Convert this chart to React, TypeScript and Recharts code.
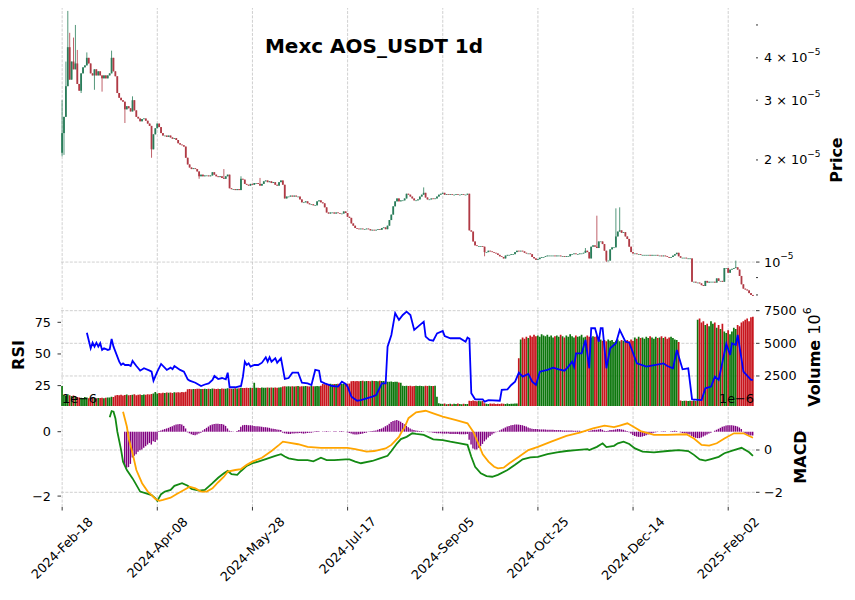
import React from 'react';
import { ComposedChart, Bar, Line, XAxis, YAxis, ReferenceLine, Cell } from 'recharts';

// Mexc AOS_USDT 1d — price (log), RSI + volume, MACD
// prices in units of 1e-6 USDT

const FONT = '"DejaVu Sans", Verdana, sans-serif';
const UP = '#2a7d5a';
const DOWN = '#b03a45';
const VOL_UP = '#0c760c';
const VOL_DOWN = '#c8161e';
const GRID = '#c4c4c4';

const dateTicks = [0, 50, 100, 150, 200, 250, 300, 350];
const dateLabels = ['2024-Feb-18', '2024-Apr-08', '2024-May-28', '2024-Jul-17', '2024-Sep-05', '2024-Oct-25', '2024-Dec-14', '2025-Feb-02'];

const firstOpen = 21.0;
const closes = [
  24.0, 26.8, 33.0, 43.0, 34.5, 39.0, 37.0, 38.5, 33.5, 32.0,
  36.0, 37.5, 38.0, 40.0, 38.5, 36.0, 35.5, 37.0, 35.5, 36.5,
  35.5, 34.8, 35.5, 34.8, 35.5, 36.0, 40.0, 36.5, 35.3, 31.5,
  30.5, 30.0, 29.7, 28.2, 28.8, 28.4, 27.8, 30.0, 28.0, 26.8,
  26.5, 26.0, 26.4, 26.5, 26.1, 25.6, 25.2, 21.5, 23.8, 24.8,
  25.6, 25.0, 24.0, 23.6, 23.6, 23.4, 23.6, 23.3, 23.1, 23.2,
  22.9, 22.4, 22.2, 22.1, 21.9, 20.3, 19.4, 19.0, 18.8, 18.9,
  18.8, 18.5, 17.9, 18.1, 17.9, 18.0, 18.0, 17.9, 18.0, 18.4,
  18.1, 17.9, 17.8, 17.9, 17.7, 17.6, 17.9, 18.1, 16.5, 16.4,
  16.4, 16.3, 16.4, 16.3, 17.6, 17.5, 17.0, 16.9, 16.8, 17.0,
  16.9, 17.1, 17.1, 17.0, 16.8, 17.0, 17.3, 17.4, 17.2, 17.3,
  17.1, 17.2, 16.9, 16.8, 17.2, 17.4, 16.9, 15.4, 15.6, 15.6,
  15.7, 15.6, 15.7, 15.6, 15.6, 15.3, 15.0, 15.0, 15.1, 14.9,
  14.8, 14.8, 14.7, 14.7, 15.1, 15.2, 15.0, 14.9, 14.5, 14.0,
  13.9, 14.0, 14.0, 13.9, 14.0, 13.95, 13.9, 13.9, 14.1, 13.95,
  13.6, 13.5, 13.0, 12.8, 12.6, 12.55, 12.5, 12.55, 12.5, 12.5,
  12.55, 12.5, 12.4, 12.45, 12.4, 12.45, 12.5, 12.45, 12.6, 12.65,
  12.5, 12.8, 13.3, 13.8, 14.6, 15.1, 15.4, 15.1, 15.2, 15.2,
  15.4, 15.9, 15.8, 15.6, 15.4, 15.2, 15.2, 15.3, 15.6, 15.8,
  16.0, 15.5, 15.3, 15.3, 15.4, 15.35, 15.4, 15.6, 15.8, 15.9,
  16.0, 15.8, 15.85, 15.8, 15.85, 15.8, 15.8, 15.85, 15.8, 15.8,
  15.85, 15.8, 15.8, 15.9, 12.4, 12.3, 11.5, 11.2, 11.15, 11.15,
  11.15, 11.1, 10.7, 10.7, 10.8, 10.75, 10.7, 10.65, 10.6, 10.5,
  10.4, 10.35, 10.25, 10.45, 10.5, 10.5, 10.55, 10.55, 10.7, 10.8,
  10.75, 10.8, 10.75, 10.65, 10.6, 10.6, 10.55, 10.35, 10.25, 10.15,
  10.2, 10.3, 10.35, 10.35, 10.4, 10.45, 10.45, 10.45, 10.45, 10.4,
  10.45, 10.45, 10.4, 10.4, 10.35, 10.4, 10.4, 10.55, 10.55, 10.6,
  10.55, 10.55, 10.6, 10.6, 10.65, 10.8, 10.7, 10.25, 11.1, 11.2,
  11.1, 11.0, 11.5, 11.5, 11.3, 10.8, 10.1, 10.1, 10.9, 11.05,
  11.05, 11.9, 12.3, 12.4, 12.2, 12.25, 11.9, 11.7, 11.1, 10.7,
  10.6, 10.6, 10.55, 10.55, 10.5, 10.5, 10.5, 10.5, 10.5, 10.45,
  10.5, 10.5, 10.5, 10.45, 10.45, 10.4, 10.45, 10.4, 10.35, 10.3,
  10.35, 10.45, 10.55, 10.65, 10.4, 10.3, 10.3, 10.3, 10.25, 10.25,
  10.25, 8.75, 8.75, 8.7, 8.7, 8.65, 8.55, 8.5, 8.8, 8.7,
  8.75, 8.75, 8.75, 8.7, 8.95, 8.8, 8.8, 8.75, 9.6, 9.6,
  9.3, 9.5, 9.55, 9.6, 9.65, 9.5, 9.1, 8.6, 8.35, 8.3,
  8.25, 8.1, 8.0, 7.95,
];

// visible wick extremes [day, price]
const wickHighs = [
  [0, 30.0], [2, 39.0], [3, 55.0], [4, 47.4], [6, 45.9], [7, 50.0], [8, 42.2], [13, 41.5],
  [26, 42.0], [37, 30.8], [85, 18.8], [94, 17.9], [104, 17.7], [190, 16.6], [275, 11.0],
  [281, 13.7], [291, 14.4], [293, 14.5], [354, 10.1],
];
const wickLows = [
  [0, 20.5], [1, 20.7], [10, 31.5], [17, 32.2], [21, 31.8], [33, 25.7], [47, 20.3], [72, 17.6],
  [222, 10.4], [286, 10.0],
];

const volumes = [
  1730, 1050, 980, 1100, 1020, 960, 1000, 940, 880, 860,
  840, 820, 880, 860, 800, 820, 850, 830, 790, 810,
  820, 840, 800, 830, 850, 860, 900, 880, 1000, 1050,
  1020, 1060, 1000, 1040, 1080, 1020, 1050, 1060, 1100, 1030,
  1060, 1080, 1040, 1090, 1060, 1100, 1080, 1120, 1150, 1280,
  1150, 1200, 1180, 1220, 1190, 1230, 1210, 1240, 1200, 1250,
  1230, 1260, 1240, 1270, 1250, 1300, 1480, 1500, 1490, 1510,
  1500, 1520, 1530, 1500, 1510, 1520, 1500, 1530, 1510, 1540,
  1520, 1500, 1530, 1510, 1540, 1520, 1530, 1550, 1540, 1520,
  1530, 1550, 1540, 1560, 1600, 1580, 1570, 1590, 1580, 1600,
  1580, 1980, 1590, 1600, 1580, 1610, 1590, 1600, 1620, 1600,
  1610, 1590, 1620, 1600, 1610, 1630, 1700, 1720, 1700, 1710,
  1690, 1720, 1700, 1710, 1730, 1700, 1720, 1710, 1730, 1720,
  1700, 1730, 1720, 1710, 1740, 1720, 1750, 1880, 1870, 1890,
  1880, 1900, 1870, 1890, 1880, 1900, 1890, 1880, 1910, 1890,
  1900, 1920, 2100, 2110, 2090, 2120, 2100, 2110, 2130, 2100,
  2120, 2110, 2100, 2130, 2110, 2120, 2100, 2130, 2110, 2120,
  2100, 2060, 2050, 2070, 2040, 2060, 2050, 2000, 1980, 1760,
  1740, 1760, 1730, 1750, 1720, 1740, 1760, 1730, 1750, 1740,
  1720, 1750, 1730, 1760, 1740, 1730, 1750, 900, 420, 380,
  350, 400, 330, 360, 380, 340, 370, 350, 390, 360,
  340, 380, 360, 350, 600, 590, 620, 580, 560, 600,
  570, 590, 410, 380, 360, 400, 370, 390, 350, 380,
  360, 400, 370, 350, 390, 360, 380, 370, 400, 390,
  3850, 5300, 5450, 5350, 5500, 5400, 5600, 5500, 5650, 5550,
  5600, 5500, 5700, 5600, 5550, 5650, 5500, 5600, 5450, 5550,
  5600, 5500, 5650, 5550, 5450, 5600, 5500, 5700, 5550, 5450,
  5600, 5500, 5550, 5650, 5450, 5500, 5600, 5500, 5450, 5550,
  5500, 5600, 5450, 5300, 5200, 5250, 5150, 5300, 5200, 5250,
  5100, 5200, 5300, 5150, 5250, 5200, 5100, 5250, 5150, 5300,
  5200, 5450, 5350, 5500, 5400, 5450, 5350, 5500, 5400, 5550,
  5450, 5350, 5500, 5400, 5450, 5550, 5400, 5500, 5350, 5450,
  5500, 5400, 5300, 5250, 5100, 620, 580, 600, 610, 590,
  600, 580, 620, 590, 6800, 6900, 6600, 6700, 6400, 6500,
  6300, 6700, 6500, 6600, 6200, 6400, 6100, 6500, 5900, 5800,
  6000, 5700, 5900, 6200, 6100, 6400, 6300, 6600, 6700, 6800,
  6900, 6700, 7000, 7040,
];

const rsiPts = [
  [13, 66.8], [15, 54.5], [16, 58.9], [17, 55.8], [18, 58.9], [19, 55.8], [20, 58.5], [21, 53.2],
  [22, 54.5], [24, 53.2], [25, 53.7], [26, 61.8], [27, 55.8], [28, 51.9], [30, 43.9], [31, 41.3],
  [32, 42.6], [33, 41.3], [35, 41.3], [36, 40.5], [37, 44.5], [39, 40.5], [40, 38.7], [41, 36.8],
  [43, 38.7], [46, 36.8], [47, 36.0], [48, 28.9], [50, 36.0], [52, 42.1], [55, 37.4], [57, 39.2],
  [58, 38.0], [59, 40.5], [62, 37.4], [64, 36.0], [66, 30.0], [67, 28.9], [70, 27.3], [73, 24.7],
  [75, 25.9], [77, 26.8], [79, 29.5], [80, 32.6], [82, 30.2], [84, 31.0], [86, 30.0], [87, 35.2],
  [88, 23.7], [91, 23.7], [94, 24.7], [95, 32.1], [96, 43.9], [97, 41.3], [98, 42.6], [99, 40.0],
  [101, 41.3], [103, 41.3], [105, 43.1], [107, 47.4], [108, 43.9], [109, 47.4], [110, 43.9],
  [112, 46.6], [113, 43.1], [115, 46.6], [117, 30.3], [119, 31.0], [121, 35.2], [124, 35.2],
  [126, 27.3], [129, 26.8], [131, 25.5], [133, 37.4], [135, 36.8], [136, 28.1], [138, 26.8],
  [142, 24.7], [145, 24.2], [147, 28.1], [149, 26.3], [150, 24.2], [152, 16.3], [155, 13.1],
  [157, 13.6], [160, 14.9], [163, 16.3], [165, 17.5], [168, 26.8], [170, 26.8], [171, 55.8],
  [173, 65.0], [175, 82.2], [177, 76.9], [179, 80.8], [181, 83.4], [183, 80.8], [185, 69.0],
  [187, 71.6], [190, 75.5], [191, 63.7], [193, 61.1], [195, 60.5], [197, 66.3], [200, 68.2],
  [201, 64.2], [204, 62.4], [209, 62.4], [212, 59.7], [213, 62.9], [214, 62.0], [215, 19.0],
  [217, 14.2], [221, 14.2], [222, 12.3], [224, 13.6], [230, 13.1], [231, 21.6], [234, 22.1],
  [236, 25.5], [238, 28.1], [240, 35.2], [242, 32.1], [245, 34.2], [247, 28.1], [249, 25.5],
  [251, 36.0], [255, 37.4], [258, 39.2], [261, 37.9], [264, 36.8], [266, 40.0], [268, 43.9],
  [269, 40.0], [270, 50.5], [273, 50.5], [275, 61.1], [277, 38.7], [278, 70.3], [280, 70.3],
  [282, 59.7], [283, 70.3], [284, 70.3], [286, 38.7], [288, 54.5], [291, 58.5], [293, 69.0],
  [296, 59.7], [298, 58.9], [302, 42.6], [307, 40.0], [316, 42.6], [318, 40.5], [321, 38.7],
  [323, 53.2], [326, 37.9], [329, 38.7], [331, 14.2], [336, 13.6], [338, 22.9], [341, 24.2],
  [343, 32.1], [345, 29.5], [347, 43.9], [349, 57.9], [351, 49.2], [352, 58.5], [354, 57.1],
  [355, 65.0], [358, 36.0], [362, 29.5], [363, 29.5],
];

// MACD panel, units of 1e-6
const macdPts = [
  [25, 0.45], [26, 0.64], [27, 0.62], [28, 0.41], [29, 0.0], [31, -0.57], [32, -0.93], [34, -1.19],
  [37, -1.45], [38, -1.55], [41, -1.86], [45, -1.93], [47, -1.97], [49, -2.07], [50, -2.15],
  [52, -1.94], [54, -1.86], [57, -1.81], [59, -1.68], [63, -1.60], [66, -1.68], [68, -1.78],
  [72, -1.83], [75, -1.81], [79, -1.60], [82, -1.43], [85, -1.29], [87, -1.22], [89, -1.32],
  [92, -1.34], [94, -1.22], [97, -1.06], [100, -0.98], [103, -0.93], [107, -0.85], [112, -0.75],
  [115, -0.70], [117, -0.77], [119, -0.83], [124, -0.88], [129, -0.88], [132, -0.92], [136, -0.81],
  [139, -0.88], [143, -0.88], [149, -0.86], [151, -0.86], [154, -0.93], [157, -0.98], [163, -0.91],
  [167, -0.83], [171, -0.75], [173, -0.60], [176, -0.36], [178, -0.23], [181, -0.16], [184, -0.05],
  [186, -0.07], [190, -0.10], [195, -0.24], [200, -0.26], [204, -0.31], [209, -0.36], [213, -0.41],
  [215, -0.78], [217, -1.09], [220, -1.29], [223, -1.38], [226, -1.40], [229, -1.34], [234, -1.19],
  [238, -1.03], [242, -0.86], [246, -0.80], [250, -0.78], [255, -0.70], [260, -0.64], [265, -0.60],
  [270, -0.57], [276, -0.54], [277, -0.57], [281, -0.47], [284, -0.36], [286, -0.48], [290, -0.44],
  [292, -0.36], [295, -0.31], [298, -0.38], [301, -0.52], [305, -0.62], [311, -0.64], [318, -0.60],
  [324, -0.57], [329, -0.60], [332, -0.72], [335, -0.86], [338, -0.90], [341, -0.85], [345, -0.78],
  [348, -0.67], [353, -0.57], [357, -0.50], [361, -0.64], [363, -0.75],
];
const signalPts = [
  [32, 0.62], [34, 0.16], [35, -0.21], [37, -0.67], [39, -1.19], [42, -1.60], [45, -1.86], [47, -1.97],
  [49, -2.09], [51, -2.15], [53, -2.12], [57, -2.05], [60, -1.94], [64, -1.81], [67, -1.71], [70, -1.76],
  [73, -1.86], [76, -1.86], [79, -1.76], [82, -1.57], [85, -1.40], [87, -1.24], [91, -1.19], [94, -1.16],
  [97, -1.03], [100, -0.93], [105, -0.81], [110, -0.60], [114, -0.41], [116, -0.31], [119, -0.34],
  [124, -0.39], [129, -0.47], [136, -0.50], [145, -0.50], [150, -0.50], [154, -0.54], [160, -0.62],
  [164, -0.60], [170, -0.52], [173, -0.41], [177, -0.16], [178, -0.05], [180, 0.14], [182, 0.42],
  [186, 0.60], [191, 0.65], [195, 0.57], [200, 0.47], [207, 0.36], [213, 0.26], [216, 0.0], [219, -0.41],
  [221, -0.70], [224, -0.93], [227, -1.09], [229, -1.14], [232, -1.12], [235, -0.98], [240, -0.78],
  [245, -0.57], [250, -0.47], [257, -0.31], [265, -0.13], [272, -0.03], [279, 0.10], [285, 0.19],
  [290, 0.14], [293, 0.19], [297, 0.26], [300, 0.16], [304, 0.02], [311, -0.10], [318, -0.10],
  [328, -0.08], [332, -0.21], [336, -0.41], [340, -0.43], [344, -0.36], [348, -0.21], [353, -0.05],
  [358, -0.05], [363, -0.19],
];
const histStart = 33;
const hist = [
  -1.05, -1.12, -1.10, -1.00, -0.80, -0.75, -0.70, -0.62, -0.58, -0.55, -0.50, -0.45, -0.40, -0.35, -0.40, -0.30, -0.32, -0.25,
  0.02, 0.04, 0.06, 0.08, 0.10, 0.12, 0.15, 0.17,
  0.20, 0.22, 0.23, 0.24, 0.22, 0.18, 0.10,
  -0.02, -0.05, -0.08, -0.10, -0.11, -0.09, -0.06, -0.03,
  0.04, 0.08, 0.12, 0.16, 0.20, 0.22,
  0.24, 0.25, 0.25, 0.24, 0.24, 0.22, 0.18, 0.10,
  0.03, 0.01, -0.01, 0.00, 0.02, 0.05,
  0.15, 0.20, 0.21, 0.21, 0.20, 0.20, 0.19, 0.18, 0.17, 0.17, 0.16, 0.15, 0.14, 0.14, 0.13, 0.12, 0.10, 0.09, 0.08, 0.07, 0.06, 0.05,
  -0.03, -0.05, -0.06, -0.07, -0.07, -0.06, -0.06, -0.05, -0.05, -0.04, -0.05, -0.06, -0.05, -0.04, -0.03, -0.03, -0.02, 0.01, 0.02, 0.01, 0.00,
  -0.01, 0.01, 0.02, 0.01, -0.01, 0.00, 0.01, 0.01, 0.00, 0.01, 0.02, 0.01, 0.00,
  -0.02, -0.04, -0.06, -0.08, -0.09, -0.09, -0.08, -0.07, -0.06, -0.04, -0.03, -0.01,
  0.01, 0.02, 0.03, 0.04, 0.06, 0.08, 0.10, 0.13, 0.17, 0.20, 0.25, 0.30, 0.33, 0.35, 0.36,
  0.34, 0.31, 0.27, 0.23, 0.18, 0.14, 0.10, 0.07,
  0.05, 0.04, 0.03, 0.02, 0.02, 0.01, 0.00, -0.01, -0.02, -0.02, -0.03,
  -0.04, -0.05, -0.05, -0.05, -0.06, -0.06, -0.06, -0.06, -0.07, -0.07, -0.07, -0.07, -0.07, -0.08, -0.08, -0.08, -0.08, -0.07,
  -0.25, -0.40, -0.52, -0.55, -0.55, -0.50, -0.45, -0.38, -0.30, -0.24,
  -0.18, -0.13, -0.09, -0.05, -0.02, 0.01, 0.04, 0.07,
  0.10, 0.13, 0.16, 0.18, 0.20, 0.21, 0.22, 0.22, 0.22, 0.21, 0.20, 0.18, 0.16, 0.13, 0.11, 0.09,
  0.08, 0.08, 0.08, 0.07, 0.07, 0.07, 0.07, 0.06, 0.06, 0.06, 0.06, 0.05, 0.05, 0.05, 0.05, 0.04,
  0.04, 0.04, 0.04, 0.04, 0.04, 0.03, 0.03, 0.03, 0.03, 0.02, 0.02, 0.01, 0.00, 0.02, 0.04, 0.05,
  0.06, 0.06, 0.07, 0.08, 0.06, 0.03, 0.02, 0.03, 0.05, 0.05, 0.06, 0.07, 0.08, 0.08, 0.07, 0.06, 0.04, 0.02,
  -0.02, -0.06, -0.10, -0.13, -0.15, -0.16, -0.16, -0.15, -0.13, -0.11, -0.09, -0.07, -0.05,
  -0.03, -0.02, -0.01, 0.00, 0.01, 0.01, 0.01, 0.00, 0.00, 0.01, 0.02, 0.03, 0.02, 0.00, -0.02,
  -0.04, -0.05, -0.06, -0.07, -0.09, -0.13, -0.17, -0.19, -0.20, -0.20, -0.18, -0.15, -0.12, -0.09, -0.06, -0.03, 0.00,
  0.03, 0.06, 0.09, 0.12, 0.15, 0.17, 0.19, 0.20, 0.20, 0.20, 0.19, 0.18, 0.16, 0.13, 0.08,
  -0.02, -0.06, -0.09, -0.11, -0.12, -0.12,
];

const priceTicks = [8, 9, 10, 20, 30, 40, 50];
const priceGrid = [10];
const rsiTicks = [25, 50, 75];
const volTicks = [2500, 5000, 7500];
const macdTicks = [-2, 0];

// ---- build the table ----
const toMap = (pts: number[][]) => new Map(pts.map((p) => [p[0], p[1]]));
const rsiMap = toMap(rsiPts);
const macdMap = toMap(macdPts);
const sigMap = toMap(signalPts);
const hiMap = toMap(wickHighs);
const loMap = toMap(wickLows);

const rows = closes.map((close, i) => {
  const open = i === 0 ? firstOpen : closes[i - 1];
  const high = Math.max(open, close, hiMap.get(i) ?? 0);
  const low = Math.min(open, close, loMap.get(i) ?? Infinity);
  const h = i - histStart;
  return {
    i,
    open,
    close,
    high,
    low,
    up: close >= open,
    vol: volumes[i],
    rsi: rsiMap.get(i) ?? null,
    macd: macdMap.get(i) ?? null,
    signal: sigMap.get(i) ?? null,
    hist: h >= 0 && h < hist.length ? hist[h] : null,
  };
});

const X_DOMAIN: [number, number] = [-0.6, 364.6];
const TICK_FS = 12.8;

// panel extents (plot area: x 61..756)
const PRICE_M = { top: 8, right: 99, bottom: 300, left: 61 };
const MID_M = { top: 307.5, right: 99, bottom: 194, left: 61 };
const MACD_M = { top: 406, right: 99, bottom: 93, left: 61 };

const Candle = (props: any) => {
  const { x, y, width, height, payload } = props;
  if (x == null || y == null || !payload) return null;
  const yHi = Math.min(y, y + height);
  const yLo = Math.max(y, y + height);
  const lh = Math.log(payload.high);
  const span = lh - Math.log(payload.low);
  const yOf = (v: number) => (span > 0 ? yHi + ((yLo - yHi) * (lh - Math.log(v))) / span : yHi);
  const cx = x + width / 2;
  const top = yOf(Math.max(payload.open, payload.close));
  const bot = yOf(Math.min(payload.open, payload.close));
  const color = payload.up ? UP : DOWN;
  return (
    <g>
      <line x1={cx} x2={cx} y1={yHi} y2={yLo} stroke={color} strokeWidth={0.8} />
      <rect x={cx - 0.9} y={top} width={1.8} height={Math.max(bot - top, 0.7)} fill={color} />
    </g>
  );
};

const PriceTick = (props: any) => {
  const { x, y, payload } = props;
  const v = payload.value;
  const major = v === 10;
  const mant: Record<number, string> = { 20: '2', 30: '3', 40: '4' };
  return (
    <g>
      <line x1={x} x2={x + (major ? 3.5 : 2)} y1={y} y2={y} stroke="#000" strokeWidth={0.8} />
      {major && (
        <text x={x + 8} y={y} dominantBaseline="central" fontSize={TICK_FS} fontFamily={FONT} fill="#000">
          10<tspan dy={-6} fontSize={9}>−5</tspan>
        </text>
      )}
      {mant[v] && (
        <text x={x + 8} y={y} dominantBaseline="central" fontSize={TICK_FS} fontFamily={FONT} fill="#000">
          {mant[v]} × 10<tspan dy={-6} fontSize={9}>−5</tspan>
        </text>
      )}
    </g>
  );
};

const RightTick = (props: any) => {
  const { x, y, payload } = props;
  const v = payload.value;
  return (
    <g>
      <line x1={x} x2={x + 3.5} y1={y} y2={y} stroke="#000" strokeWidth={0.8} />
      <text x={x + 8} y={y} dominantBaseline="central" fontSize={TICK_FS} fontFamily={FONT} fill="#000">
        {v < 0 ? `−${Math.abs(v)}` : `${v}`}
      </text>
    </g>
  );
};

const LeftTick = (props: any) => {
  const { x, y, payload } = props;
  const v = payload.value;
  return (
    <g>
      <line x1={x - 3.5} x2={x} y1={y} y2={y} stroke="#000" strokeWidth={0.8} />
      <text x={x - 10} y={y} textAnchor="end" dominantBaseline="central" fontSize={TICK_FS} fontFamily={FONT} fill="#000">
        {v < 0 ? `−${Math.abs(v)}` : `${v}`}
      </text>
    </g>
  );
};

// DejaVu Sans advance widths (em) for the date labels
const CW: Record<string, number> = {
  '-': 0.361, F: 0.575, e: 0.615, b: 0.635, A: 0.684, p: 0.635, r: 0.411, M: 0.863, a: 0.613,
  y: 0.592, J: 0.295, u: 0.634, l: 0.278, S: 0.635, O: 0.787, c: 0.55, t: 0.392, D: 0.77,
};
const textWidth = (s: string) => s.split('').reduce((w, ch) => w + (CW[ch] ?? 0.636), 0);

const DateTick = (props: any) => {
  const { x, y, payload } = props;
  const k = dateTicks.indexOf(payload.value);
  const label = k >= 0 ? dateLabels[k] : '';
  const L = textWidth(label) * TICK_FS;
  const h = TICK_FS * 1.16;
  const cy = y + 7 + (L + h) / (2 * Math.SQRT2);
  return (
    <g>
      <line x1={x} x2={x} y1={y} y2={y + 3.5} stroke="#000" strokeWidth={0.8} />
      <text
        x={x}
        y={cy}
        transform={`rotate(-45 ${x} ${cy})`}
        textAnchor="middle"
        dominantBaseline="central"
        fontSize={TICK_FS}
        fontFamily={FONT}
        fill="#000"
      >
        {label}
      </text>
    </g>
  );
};

const layer: React.CSSProperties = { position: 'absolute', left: 0, top: 0 };
const gridLine = { stroke: GRID, strokeDasharray: '3 1.4', strokeWidth: 0.8 };

// dashed grid drawn in its own layer, under the marks of a panel
const GridLayer = ({ margin, yDomain, yScale, hValues }: any) => (
  <div style={layer}>
    <ComposedChart width={855} height={600} data={rows} margin={margin}>
      <XAxis type="number" dataKey="i" domain={X_DOMAIN} allowDataOverflow hide />
      <YAxis hide domain={yDomain} scale={yScale ?? 'auto'} allowDataOverflow />
      {dateTicks.map((t) => (
        <ReferenceLine key={`gx-${t}`} x={t} {...gridLine} />
      ))}
      {hValues.map((v: number) => (
        <ReferenceLine key={`gy-${v}`} y={v} {...gridLine} />
      ))}
    </ComposedChart>
  </div>
);

export default function App() {
  return (
    <div style={{ position: 'absolute', left: 0, top: 0, width: 855, height: 600, background: '#fff', overflow: 'hidden' }}>
      <GridLayer margin={PRICE_M} yDomain={[7.73, 56.1]} yScale="log" hValues={priceGrid} />
      <GridLayer margin={MID_M} yDomain={[200, 7744]} hValues={volTicks} />
      <GridLayer margin={MACD_M} yDomain={[-2.695, 2.08]} hValues={macdTicks} />

      {/* price panel */}
      <div style={layer}>
        <ComposedChart width={855} height={600} data={rows} margin={{ ...PRICE_M, right: 9 }}>
          <XAxis type="number" dataKey="i" domain={X_DOMAIN} allowDataOverflow ticks={dateTicks} hide />
          <YAxis
            orientation="right"
            width={90}
            scale="log"
            domain={[7.73, 56.1]}
            allowDataOverflow
            ticks={priceTicks}
            interval={0}
            tick={<PriceTick />}
            tickLine={false}
            axisLine={false}
            tickSize={0}
            tickMargin={0}
          />
          <Bar dataKey={(d: any) => [d.low, d.high]} barSize={1.8} shape={<Candle />} isAnimationActive={false} />
        </ComposedChart>
      </div>

      {/* RSI + volume panel */}
      <div style={layer}>
        <ComposedChart width={855} height={600} data={rows} margin={{ ...MID_M, left: 1, right: 9 }}>
          <XAxis type="number" dataKey="i" domain={X_DOMAIN} allowDataOverflow ticks={dateTicks} hide />
          <YAxis
            yAxisId="rsi"
            orientation="left"
            width={60}
            domain={[8.9, 86.7]}
            allowDataOverflow
            ticks={rsiTicks}
            interval={0}
            tick={<LeftTick />}
            tickLine={false}
            axisLine={false}
            tickSize={0}
            tickMargin={0}
          />
          <YAxis
            yAxisId="vol"
            orientation="right"
            width={90}
            domain={[200, 7744]}
            allowDataOverflow
            ticks={volTicks}
            interval={0}
            tick={<RightTick />}
            tickLine={false}
            axisLine={false}
            tickSize={0}
            tickMargin={0}
          />
          <Bar yAxisId="vol" dataKey="vol" barSize={1.7} isAnimationActive={false}>
            {rows.map((r) => (
              <Cell key={`v-${r.i}`} fill={r.up ? VOL_UP : VOL_DOWN} />
            ))}
          </Bar>
          <Line
            yAxisId="rsi"
            dataKey="rsi"
            type="linear"
            stroke="#0000ff"
            strokeWidth={1.8}
            dot={false}
            connectNulls
            isAnimationActive={false}
          />
        </ComposedChart>
      </div>

      {/* MACD panel */}
      <div style={layer}>
        <ComposedChart width={855} height={600} data={rows} margin={{ top: 406, right: 9, bottom: 3, left: 1 }}>
          <XAxis
            type="number"
            dataKey="i"
            domain={X_DOMAIN}
            allowDataOverflow
            ticks={dateTicks}
            interval={0}
            height={90}
            tick={<DateTick />}
            tickLine={false}
            axisLine={false}
            tickSize={0}
            tickMargin={0}
          />
          <YAxis
            yAxisId="l"
            orientation="left"
            width={60}
            domain={[-2.339, 0.798]}
            allowDataOverflow
            ticks={macdTicks}
            interval={0}
            tick={<LeftTick />}
            tickLine={false}
            axisLine={false}
            tickSize={0}
            tickMargin={0}
          />
          <YAxis
            yAxisId="r"
            orientation="right"
            width={90}
            domain={[-2.695, 2.08]}
            allowDataOverflow
            ticks={macdTicks}
            interval={0}
            tick={<RightTick />}
            tickLine={false}
            axisLine={false}
            tickSize={0}
            tickMargin={0}
          />
          <Bar yAxisId="l" dataKey="hist" fill="#800080" barSize={1.4} isAnimationActive={false} />
          <Line yAxisId="l" dataKey="macd" type="linear" stroke="#138a13" strokeWidth={1.8} dot={false} connectNulls isAnimationActive={false} />
          <Line yAxisId="l" dataKey="signal" type="linear" stroke="#ffa500" strokeWidth={1.8} dot={false} connectNulls isAnimationActive={false} />
        </ComposedChart>
      </div>

      {/* titles, axis labels, offset texts */}
      <svg width={855} height={600} style={{ ...layer, pointerEvents: 'none' }} fontFamily={FONT}>
        <text x={374} y={46} textAnchor="middle" dominantBaseline="central" fontSize={20} fontWeight="bold">
          Mexc AOS_USDT 1d
        </text>
        <text x={836} y={160} transform="rotate(-90 836 160)" textAnchor="middle" dominantBaseline="central" fontSize={16} fontWeight="bold">
          Price
        </text>
        <text x={18} y={355} transform="rotate(-90 18 355)" textAnchor="middle" dominantBaseline="central" fontSize={16} fontWeight="bold">
          RSI
        </text>
        <text x={814} y={357} transform="rotate(-90 814 357)" textAnchor="middle" dominantBaseline="central" fontSize={16}>
          <tspan fontWeight="bold">Volume</tspan>
          <tspan>{'  10'}</tspan>
          <tspan dy={-7} fontSize={11}>6</tspan>
        </text>
        <text x={800} y={457} transform="rotate(-90 800 457)" textAnchor="middle" dominantBaseline="central" fontSize={16} fontWeight="bold">
          MACD
        </text>
        <text x={62} y={398} dominantBaseline="central" fontSize={TICK_FS}>
          1e−6
        </text>
        <text x={754} y={398} textAnchor="end" dominantBaseline="central" fontSize={TICK_FS}>
          1e−6
        </text>
      </svg>
    </div>
  );
}
